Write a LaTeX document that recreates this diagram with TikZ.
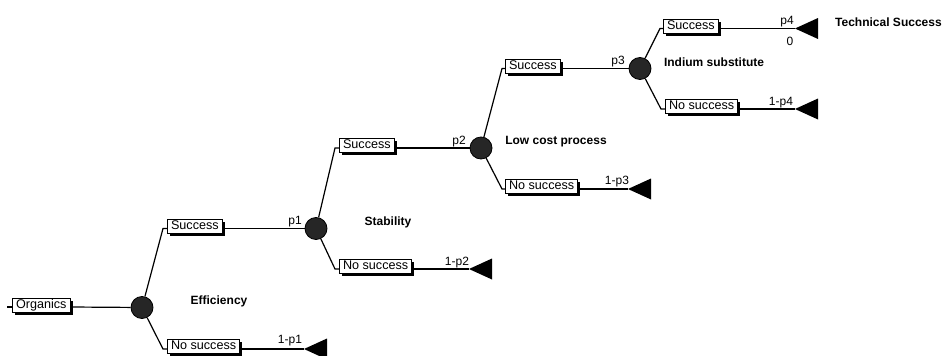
\documentclass[tikz,border=0pt]{standalone}
\usepackage{fontspec}
\setmainfont{Liberation Sans}
\usetikzlibrary{shadows}
\begin{document}
\begin{tikzpicture}[x=1pt,y=-1pt,
  chance/.style={circle, fill=black!85, draw=black, line width=0.8pt, minimum size=22pt, inner sep=0pt},
  lbox/.style={draw, fill=white, line width=0.9pt, anchor=west,
    drop shadow={shadow xshift=2.6pt, shadow yshift=-2.6pt, fill=black, opacity=1},
    font=\fontsize{12.6}{14}\selectfont, inner xsep=3.6pt, inner ysep=0.8pt,
    text height=9.4pt, text depth=3pt},
  branch/.style={line width=1.2pt},
  prob/.style={font=\fontsize{12}{14}\selectfont, inner sep=0pt},
  title/.style={font=\bfseries\fontsize{12}{14}\selectfont, inner sep=0pt}
]
\useasboundingbox (0,0) rectangle (946,356);

% level 0
\coordinate (o0) at (7,307);
\node[lbox] (org) at (12,305) {Organics};
\node[chance] (c1) at (142,307.5) {};
\draw[branch] (o0) -- (org.west |- o0);
\draw[branch] (org.east |- o0) -- (c1);
\node[title] at (219,301) {Efficiency};

% level 1
\coordinate (k1a) at (163,228.5);
\coordinate (k1b) at (163,349);
\node[lbox] (s1) at (167,226) {Success};
\node[lbox] (n1) at (167,346.5) {No success};
\node[chance] (c2) at (316,228.5) {};
\coordinate (t1) at (304,349);
\draw[branch] (c1) -- (k1a) -- (k1a -| s1.west);
\draw[branch] (s1.east |- k1a) -- (c2);
\draw[branch] (c1) -- (k1b) -- (k1b -| n1.west);
\draw[branch] (n1.east |- k1b) -- (t1);
\fill (t1) -- ++(23,-10.5) -- ++(0,21) -- cycle;
\node[prob] at (295,222) {p1};
\node[prob] at (290,341) {1-p1};
\node[title] at (388,222) {Stability};

% level 2
\coordinate (k2a) at (335,148);
\coordinate (k2b) at (335,269);
\node[lbox] (s2) at (339,145.5) {Success};
\node[lbox] (n2) at (339,266.5) {No success};
\node[chance] (c3) at (481,148) {};
\coordinate (t2) at (469,269);
\draw[branch] (c2) -- (k2a) -- (k2a -| s2.west);
\draw[branch] (s2.east |- k2a) -- (c3);
\draw[branch] (c2) -- (k2b) -- (k2b -| n2.west);
\draw[branch] (n2.east |- k2b) -- (t2);
\fill (t2) -- ++(23,-10.5) -- ++(0,21) -- cycle;
\node[prob] at (459,142) {p2};
\node[prob] at (457,263) {1-p2};
\node[title] at (556,142) {Low cost process};

% level 3
\coordinate (k3a) at (502,68.5);
\coordinate (k3b) at (502,189);
\node[lbox] (s3) at (505,66) {Success};
\node[lbox] (n3) at (505,186.5) {No success};
\node[chance] (c4) at (640,68.5) {};
\coordinate (t3) at (628,189);
\draw[branch] (c3) -- (k3a) -- (k3a -| s3.west);
\draw[branch] (s3.east |- k3a) -- (c4);
\draw[branch] (c3) -- (k3b) -- (k3b -| n3.west);
\draw[branch] (n3.east |- k3b) -- (t3);
\fill (t3) -- ++(23,-10.5) -- ++(0,21) -- cycle;
\node[prob] at (618,62) {p3};
\node[prob] at (617,182) {1-p3};
\node[title] at (714,62) {Indium substitute};

% level 4
\coordinate (k4a) at (660,28.5);
\coordinate (k4b) at (661,109);
\node[lbox] (s4) at (663,26) {Success};
\node[lbox] (n4) at (665,106.5) {No success};
\coordinate (t5) at (795,28.5);
\coordinate (t4) at (795,109);
\draw[branch] (c4) -- (k4a) -- (k4a -| s4.west);
\draw[branch] (s4.east |- k4a) -- (t5);
\draw[branch] (c4) -- (k4b) -- (k4b -| n4.west);
\draw[branch] (n4.east |- k4b) -- (t4);
\fill (t5) -- ++(23,-10.5) -- ++(0,21) -- cycle;
\fill (t4) -- ++(23,-10.5) -- ++(0,21) -- cycle;
\node[prob] at (787,22) {p4};
\node[prob] at (790,41) {0};
\node[prob] at (781,103) {1-p4};
\node[title, anchor=west] at (835,22) {Technical Success};
\end{tikzpicture}
\end{document}
